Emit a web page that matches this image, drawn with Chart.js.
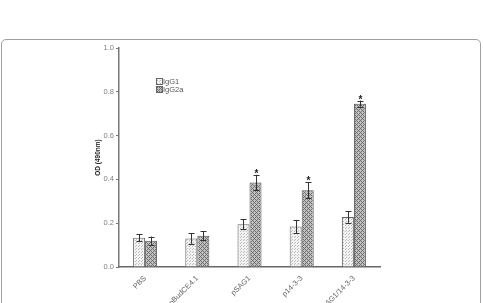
<!DOCTYPE html>
<html>
<head>
<meta charset="utf-8">
<script src="https://cdn.jsdelivr.net/npm/chart.js@4.4.0/dist/chart.umd.min.js"></script>
<style>
  html, body { margin:0; padding:0; background:#fff; width:483px; height:303px; overflow:hidden; }
  #card { position:absolute; left:1px; top:39px; width:478px; height:300px; border:1px solid #a0a0a0; border-radius:5px; }
  #wrap { position:absolute; left:0; top:0; width:483px; height:303px; }
</style>
</head>
<body>
<div id="card"></div>
<div id="wrap"><canvas id="c" width="483" height="303"></canvas></div>
<script>
const categories = ["PBS", "pBudCE4.1", "pSAG1", "p14-3-3", "pSAG1/14-3-3"];
const igg1 = [0.133, 0.130, 0.195, 0.185, 0.228];
const igg1Err = [0.016, 0.024, 0.022, 0.030, 0.026];
const igg2a = [0.120, 0.143, 0.386, 0.350, 0.746];
const igg2aErr = [0.019, 0.020, 0.035, 0.037, 0.014];
const igg2aSig = [false, false, true, true, true];
const yTicks = [0, 0.2, 0.4, 0.6, 0.8, 1.0];

function dotPattern() {
  const p = document.createElement('canvas'); p.width = 3; p.height = 3;
  const g = p.getContext('2d');
  g.fillStyle = '#f2f2f2'; g.fillRect(0,0,3,3);
  g.fillStyle = '#bdbdbd'; g.fillRect(0,0,1,1); g.fillRect(1,2,1,1);
  return g.createPattern(p, 'repeat');
}
function hatchPattern() {
  const p = document.createElement('canvas'); p.width = 4; p.height = 4;
  const g = p.getContext('2d');
  g.fillStyle = '#c0c0c0'; g.fillRect(0,0,4,4);
  g.fillStyle = '#6e6e6e';
  g.fillRect(0,0,1,1); g.fillRect(1,1,1,1); g.fillRect(2,2,1,1); g.fillRect(3,3,1,1);
  g.fillRect(3,1,1,1); g.fillRect(1,3,1,1);
  return g.createPattern(p, 'repeat');
}
const pat1 = dotPattern();
const pat2 = hatchPattern();

const errs = [igg1Err, igg2aErr];
const extras = {
  id: 'extras',
  afterDatasetsDraw(chart) {
    const ctx = chart.ctx;
    const y = chart.scales.y;
    ctx.save();
    ctx.strokeStyle = '#333'; ctx.lineWidth = 1;
    chart.data.datasets.forEach((ds, di) => {
      const meta = chart.getDatasetMeta(di);
      meta.data.forEach((bar, i) => {
        const v = ds.data[i], e = errs[di][i];
        const x = Math.round(bar.x) + 0.5;
        const yt = y.getPixelForValue(v + e), yb = y.getPixelForValue(v - e);
        ctx.beginPath();
        ctx.moveTo(x, yt); ctx.lineTo(x, yb);
        ctx.moveTo(x - 3, Math.round(yt) + 0.5); ctx.lineTo(x + 3, Math.round(yt) + 0.5);
        ctx.moveTo(x - 3, Math.round(yb) + 0.5); ctx.lineTo(x + 3, Math.round(yb) + 0.5);
        ctx.stroke();
        if (di === 1 && igg2aSig[i]) {
          ctx.fillStyle = '#222';
          ctx.font = 'bold 10px "Liberation Sans", Arial';
          ctx.textAlign = 'center'; ctx.textBaseline = 'alphabetic';
          ctx.fillText('*', x, yt + 2);
        }
      });
    });
    // legend
    const lx = 156, ly = [78, 86];
    chart.data.datasets.forEach((ds, di) => {
      ctx.fillStyle = ds.backgroundColor;
      ctx.fillRect(lx, ly[di], 6, 6);
      ctx.strokeStyle = '#666';
      ctx.strokeRect(lx + 0.5, ly[di] + 0.5, 6, 6);
      ctx.fillStyle = '#555';
      ctx.font = '7.5px "Liberation Sans", Arial';
      ctx.textAlign = 'left'; ctx.textBaseline = 'middle';
      ctx.fillText(ds.label, lx + 7, ly[di] + 3.5);
    });
    ctx.restore();
  }
};

new Chart(document.getElementById('c'), {
  type: 'bar',
  data: {
    labels: categories,
    datasets: [
      { label: 'IgG1', data: igg1, backgroundColor: pat1, borderColor: '#666', borderWidth: 1 },
      { label: 'IgG2a', data: igg2a, backgroundColor: pat2, borderColor: '#555', borderWidth: 1 }
    ]
  },
  options: {
    responsive: false,
    animation: false,
    devicePixelRatio: 1,
    layout: { padding: { left: 94, right: 103, top: 48, bottom: 0 } },
    datasets: { bar: { categoryPercentage: 0.46, barPercentage: 1.0 } },
    plugins: { legend: { display: false }, tooltip: { enabled: false } },
    scales: {
      x: {
        grid: { display: false },
        border: { display: true, color: '#666', width: 1.5 },
        ticks: { color: '#666', font: { size: 7.5, family: '"Liberation Sans", Arial' }, maxRotation: 45, minRotation: 45, padding: -1 },
        afterFit(s) { s.height = 36; }
      },
      y: {
        min: 0, max: 1.0,
        afterBuildTicks(s) { s.ticks = yTicks.map(v => ({ value: v })); },
        grid: { drawOnChartArea: false, drawTicks: true, tickLength: 3, color: '#777' },
        border: { display: true, color: '#777', width: 1.5 },
        ticks: { color: '#808080', font: { size: 7.5, family: '"Liberation Sans", Arial' }, padding: 2,
          callback: v => v.toFixed(1) },
        title: { display: true, text: 'OD (490nm)', color: '#222', padding: 0,
          font: { size: 6.5, weight: 'bold', family: '"Liberation Sans", Arial' } },
        afterFit(s) { s.width = 25; }
      }
    }
  },
  plugins: [extras]
});
</script>
</body>
</html>
